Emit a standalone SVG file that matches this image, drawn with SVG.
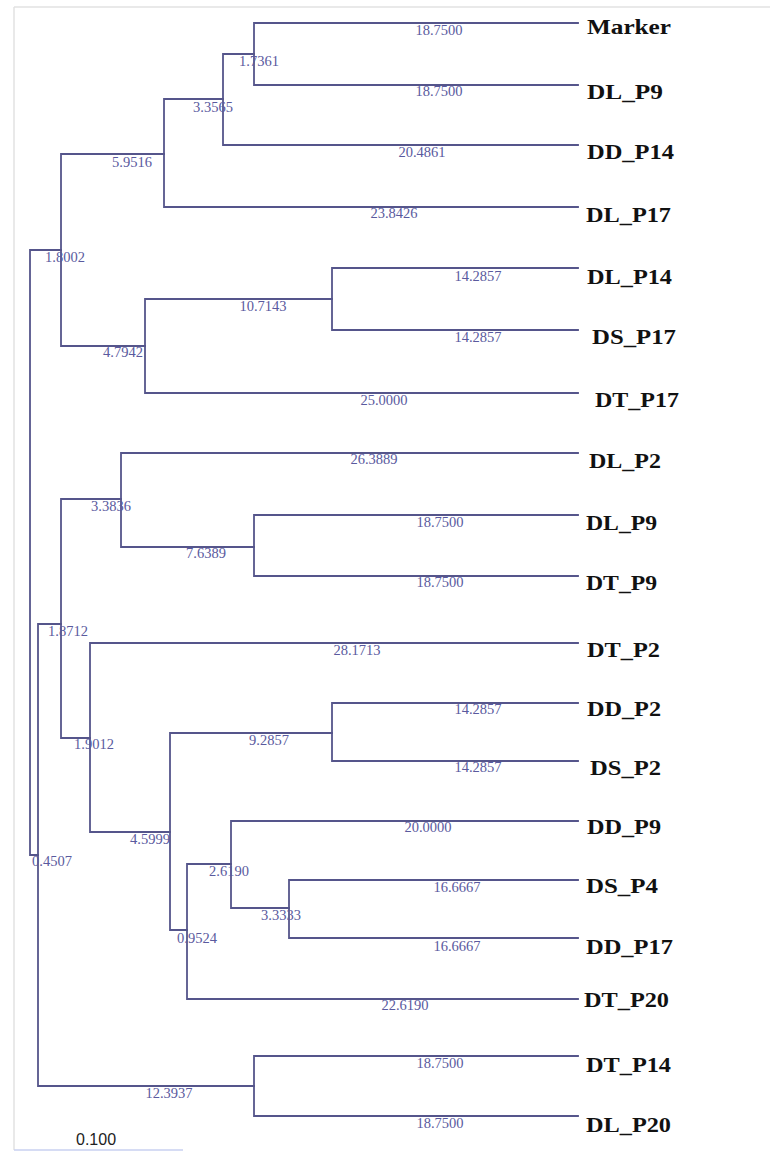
<svg xmlns="http://www.w3.org/2000/svg" width="777" height="1153" viewBox="0 0 777 1153">
<style>
.br{fill:none;stroke:#55558b;stroke-width:1.8;stroke-linecap:square}
.bl{font-family:"Liberation Serif",serif;font-size:14.5px;fill:#5a5a9e;text-anchor:middle}
.lf{font-family:"Liberation Serif",serif;font-size:22px;font-weight:bold;fill:#111111}
.frame{stroke:#e2e2e2;stroke-width:1.5;fill:none}
</style>
<rect width="777" height="1153" fill="#ffffff"/>
<path class="frame" d="M14,7 H770 M14,7 V1150"/>
<path d="M14,1150 H183" stroke="#c8d0f0" stroke-width="1.5"/>
<g id="connectors">
<path class="br" d="M254,23 V85 M254,23 H578 M254,85 H578"/>
<path class="br" d="M223,54 V145 M223,54 H254 M223,145 H578"/>
<path class="br" d="M164,99 V207 M164,99 H223 M164,207 H578"/>
<path class="br" d="M332,268 V330 M332,268 H578 M332,330 H578"/>
<path class="br" d="M145,299 V393 M145,299 H332 M145,393 H578"/>
<path class="br" d="M61,154 V346 M61,154 H164 M61,346 H145"/>
<path class="br" d="M30,250 V855 M30,250 H61 M30,855 H38"/>
<path class="br" d="M38,624 V1086 M38,624 H61 M38,1086 H254"/>
<path class="br" d="M254,1056 V1116 M254,1056 H578 M254,1116 H578"/>
<path class="br" d="M61,499 V738 M61,499 H121 M61,738 H90"/>
<path class="br" d="M121,453 V547 M121,453 H578 M121,547 H254"/>
<path class="br" d="M254,515 V576 M254,515 H578 M254,576 H578"/>
<path class="br" d="M90,643 V832 M90,643 H578 M90,832 H170"/>
<path class="br" d="M170,733 V930 M170,733 H332 M170,930 H187"/>
<path class="br" d="M332,703 V761 M332,703 H578 M332,761 H578"/>
<path class="br" d="M187,864 V999 M187,864 H231 M187,999 H578"/>
<path class="br" d="M231,821 V908 M231,821 H578 M231,908 H289"/>
<path class="br" d="M289,880 V938 M289,880 H578 M289,938 H578"/>
</g>
<g id="branch-labels">
<text class="bl" x="439" y="35">18.7500</text>
<text class="bl" x="259" y="66">1.7361</text>
<text class="bl" x="439" y="96">18.7500</text>
<text class="bl" x="213" y="112">3.3565</text>
<text class="bl" x="422" y="157">20.4861</text>
<text class="bl" x="132" y="167">5.9516</text>
<text class="bl" x="394" y="218">23.8426</text>
<text class="bl" x="65" y="262">1.8002</text>
<text class="bl" x="478" y="281">14.2857</text>
<text class="bl" x="263" y="311">10.7143</text>
<text class="bl" x="478" y="342">14.2857</text>
<text class="bl" x="123" y="357">4.7942</text>
<text class="bl" x="384" y="405">25.0000</text>
<text class="bl" x="374" y="464">26.3889</text>
<text class="bl" x="111" y="511">3.3836</text>
<text class="bl" x="440" y="527">18.7500</text>
<text class="bl" x="206" y="558">7.6389</text>
<text class="bl" x="440" y="587">18.7500</text>
<text class="bl" x="68" y="636">1.8712</text>
<text class="bl" x="357" y="655">28.1713</text>
<text class="bl" x="478" y="714">14.2857</text>
<text class="bl" x="269" y="745">9.2857</text>
<text class="bl" x="94" y="749">1.9012</text>
<text class="bl" x="478" y="772">14.2857</text>
<text class="bl" x="428" y="832">20.0000</text>
<text class="bl" x="150" y="844">4.5999</text>
<text class="bl" x="52" y="866">0.4507</text>
<text class="bl" x="229" y="876">2.6190</text>
<text class="bl" x="457" y="892">16.6667</text>
<text class="bl" x="281" y="920">3.3333</text>
<text class="bl" x="197" y="943">0.9524</text>
<text class="bl" x="457" y="951">16.6667</text>
<text class="bl" x="405" y="1010">22.6190</text>
<text class="bl" x="440" y="1068">18.7500</text>
<text class="bl" x="169" y="1098">12.3937</text>
<text class="bl" x="440" y="1128">18.7500</text>
</g>
<g id="leaf-Marker"><text class="lf" x="587" y="34" textLength="84" lengthAdjust="spacingAndGlyphs">Marker</text></g>
<g id="leaf-DL_P9-a"><text class="lf" x="587" y="99" textLength="76" lengthAdjust="spacingAndGlyphs">DL_P9</text></g>
<g id="leaf-DD_P14"><text class="lf" x="587" y="159" textLength="87" lengthAdjust="spacingAndGlyphs">DD_P14</text></g>
<g id="leaf-DL_P17"><text class="lf" x="586" y="222" textLength="85" lengthAdjust="spacingAndGlyphs">DL_P17</text></g>
<g id="leaf-DL_P14"><text class="lf" x="587" y="284" textLength="85" lengthAdjust="spacingAndGlyphs">DL_P14</text></g>
<g id="leaf-DS_P17"><text class="lf" x="592" y="344" textLength="84" lengthAdjust="spacingAndGlyphs">DS_P17</text></g>
<g id="leaf-DT_P17"><text class="lf" x="595" y="407" textLength="84" lengthAdjust="spacingAndGlyphs">DT_P17</text></g>
<g id="leaf-DL_P2"><text class="lf" x="589" y="468" textLength="72" lengthAdjust="spacingAndGlyphs">DL_P2</text></g>
<g id="leaf-DL_P9-b"><text class="lf" x="586" y="530" textLength="71" lengthAdjust="spacingAndGlyphs">DL_P9</text></g>
<g id="leaf-DT_P9"><text class="lf" x="586" y="590" textLength="71" lengthAdjust="spacingAndGlyphs">DT_P9</text></g>
<g id="leaf-DT_P2"><text class="lf" x="587" y="657" textLength="73" lengthAdjust="spacingAndGlyphs">DT_P2</text></g>
<g id="leaf-DD_P2"><text class="lf" x="587" y="716" textLength="74" lengthAdjust="spacingAndGlyphs">DD_P2</text></g>
<g id="leaf-DS_P2"><text class="lf" x="590" y="775" textLength="71" lengthAdjust="spacingAndGlyphs">DS_P2</text></g>
<g id="leaf-DD_P9"><text class="lf" x="587" y="834" textLength="74" lengthAdjust="spacingAndGlyphs">DD_P9</text></g>
<g id="leaf-DS_P4"><text class="lf" x="586" y="893" textLength="72" lengthAdjust="spacingAndGlyphs">DS_P4</text></g>
<g id="leaf-DD_P17"><text class="lf" x="586" y="954" textLength="87" lengthAdjust="spacingAndGlyphs">DD_P17</text></g>
<g id="leaf-DT_P20"><text class="lf" x="584" y="1007" textLength="85" lengthAdjust="spacingAndGlyphs">DT_P20</text></g>
<g id="leaf-DT_P14"><text class="lf" x="586" y="1072" textLength="85" lengthAdjust="spacingAndGlyphs">DT_P14</text></g>
<g id="leaf-DL_P20"><text class="lf" x="586" y="1132" textLength="85" lengthAdjust="spacingAndGlyphs">DL_P20</text></g>
<g id="scale"><text x="76" y="1145" font-family="Liberation Sans, sans-serif" font-size="16" fill="#222222">0.100</text></g>
</svg>
